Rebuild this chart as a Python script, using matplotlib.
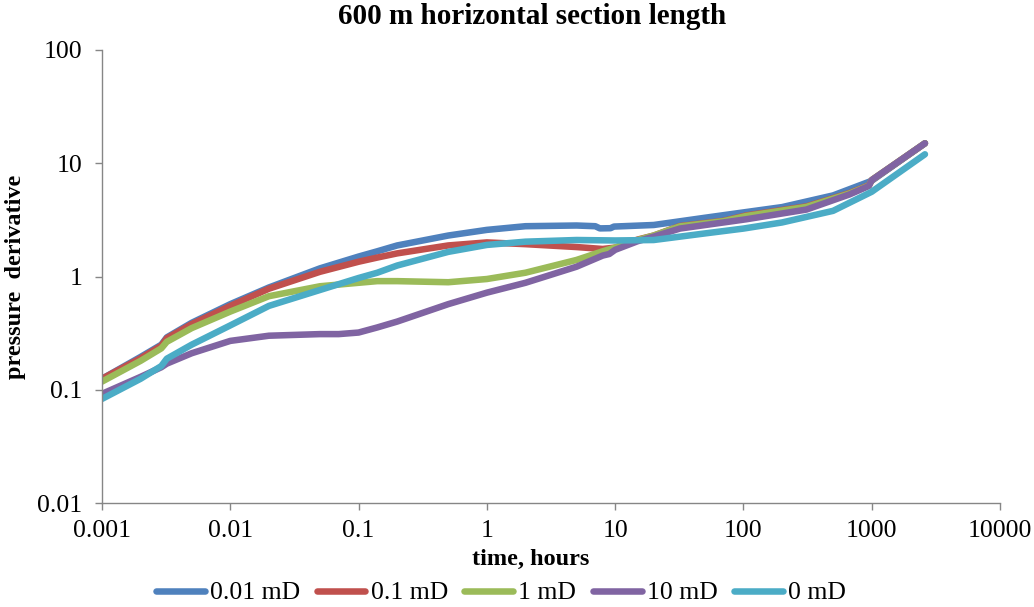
import matplotlib
matplotlib.use("Agg")
import matplotlib.pyplot as plt
from matplotlib.ticker import FixedLocator, FixedFormatter, NullLocator

plt.rcParams['font.family'] = ['Liberation Serif', 'DejaVu Serif']

# ---- data ----
t_blue = [0.001, 0.002, 0.0029, 0.0032, 0.005, 0.01, 0.02, 0.05, 0.1, 0.14, 0.2, 0.5, 1, 2, 5, 7, 7.6, 9.2, 9.8, 20, 50, 100, 200, 500, 1000, 2600]
v_blue = [0.125, 0.195, 0.25, 0.29, 0.39, 0.57, 0.8, 1.18, 1.5, 1.67, 1.88, 2.3, 2.58, 2.78, 2.82, 2.78, 2.66, 2.67, 2.76, 2.85, 3.3, 3.68, 4.1, 5.2, 7.0, 15]

t_red = [0.001, 0.002, 0.0029, 0.0032, 0.005, 0.01, 0.02, 0.05, 0.1, 0.14, 0.2, 0.5, 1, 2, 5, 8, 10, 15, 20, 32, 70, 105, 310, 670, 950, 1000, 2600]
v_red = [0.125, 0.19, 0.245, 0.285, 0.38, 0.55, 0.78, 1.1, 1.35, 1.47, 1.6, 1.88, 2.0, 1.93, 1.82, 1.75, 1.8, 2.12, 2.3, 2.79, 3.1, 3.46, 4.16, 5.45, 6.4, 7.1, 15]

t_green = [0.001, 0.002, 0.0029, 0.0032, 0.005, 0.01, 0.02, 0.05, 0.1, 0.14, 0.2, 0.5, 1, 2, 5, 8, 10, 15, 20, 32, 70, 105, 310, 670, 950, 1000, 2600]
v_green = [0.118, 0.18, 0.232, 0.265, 0.35, 0.49, 0.67, 0.82, 0.88, 0.91, 0.91, 0.89, 0.95, 1.08, 1.4, 1.67, 1.8, 2.1, 2.3, 2.77, 3.08, 3.42, 4.12, 5.4, 6.35, 7.1, 15]

t_purple = [0.001, 0.002, 0.0029, 0.0032, 0.005, 0.01, 0.02, 0.05, 0.07, 0.1, 0.14, 0.2, 0.5, 1, 2, 5, 8, 9, 10, 15, 20, 32, 105, 310, 670, 950, 1000, 2600]
v_purple = [0.092, 0.13, 0.158, 0.17, 0.21, 0.27, 0.3, 0.31, 0.31, 0.32, 0.355, 0.4, 0.57, 0.72, 0.88, 1.22, 1.53, 1.58, 1.72, 2.05, 2.25, 2.65, 3.2, 3.9, 5.3, 6.3, 7.1, 15]

t_cyan = [0.001, 0.002, 0.0029, 0.0032, 0.005, 0.01, 0.02, 0.05, 0.1, 0.14, 0.2, 0.5, 1, 2, 5, 10, 20, 50, 100, 200, 500, 1000, 2600]
v_cyan = [0.083, 0.125, 0.162, 0.188, 0.25, 0.37, 0.55, 0.76, 0.97, 1.08, 1.25, 1.65, 1.9, 2.03, 2.1, 2.08, 2.1, 2.4, 2.65, 3.0, 3.8, 5.6, 12]

series_labels = ['0.01 mD', '0.1 mD', '1 mD', '10 mD', '0 mD']
series_colors = ['#4F81BD', '#C0504D', '#9BBB59', '#8064A2', '#4BACC6']

x_ticks = [0.001, 0.01, 0.1, 1, 10, 100, 1000, 10000]
x_tick_labels = ['0.001', '0.01', '0.1', '1', '10', '100', '1000', '10000']
y_ticks = [0.01, 0.1, 1, 10, 100]
y_tick_labels = ['0.01', '0.1', '1', '10', '100']

# ---- plot ----
W, H = 1034, 607
fig = plt.figure(figsize=(W/100, H/100), dpi=100)
ax = fig.add_axes([102/W, 1-503/H, (1000-102)/W, (503-50)/H])

data = [(t_blue, v_blue), (t_red, v_red), (t_green, v_green), (t_purple, v_purple), (t_cyan, v_cyan)]
for (t, v), lab, col in zip(data, series_labels, series_colors):
    ax.plot(t, v, color=col, lw=4.7, label=lab, solid_capstyle='round', solid_joinstyle='round')

ax.set_xscale('log')
ax.set_yscale('log')
ax.set_xlim(0.001, 10000)
ax.set_ylim(0.01, 100)

ax.xaxis.set_major_locator(FixedLocator(x_ticks))
ax.xaxis.set_major_formatter(FixedFormatter(x_tick_labels))
ax.xaxis.set_minor_locator(NullLocator())
ax.yaxis.set_major_locator(FixedLocator(y_ticks))
ax.yaxis.set_major_formatter(FixedFormatter(y_tick_labels))
ax.yaxis.set_minor_locator(NullLocator())

for s in ['top', 'right']:
    ax.spines[s].set_visible(False)
for s in ['left', 'bottom']:
    ax.spines[s].set_color('#868686')
    ax.spines[s].set_linewidth(1.0)

ax.tick_params(axis='both', which='major', direction='out', length=5, width=1,
               color='#868686', labelsize=18.5, labelcolor='black')
ax.tick_params(axis='y', pad=9)
ax.tick_params(axis='x', pad=7)

fig.text(532/W, 1-17/H, '600 m horizontal section length', fontsize=21, fontweight='bold',
         ha='center', va='center')
ax.set_xlabel('time, hours', fontsize=17.5, fontweight='bold', labelpad=5)
ax.xaxis.label.set_x((531-102)/898)
ax.set_ylabel('pressure  derivative', fontsize=17.5, fontweight='bold', labelpad=8)

leg = fig.legend(loc='center', bbox_to_anchor=(501/W, 1-593/H), ncol=5, frameon=False,
                 fontsize=18.5, handlelength=1.9, handletextpad=0.2, columnspacing=0.65,
                 borderaxespad=0, borderpad=0)
for line in leg.get_lines():
    line.set_linewidth(4.7)

fig.savefig('out.png', dpi=100)
